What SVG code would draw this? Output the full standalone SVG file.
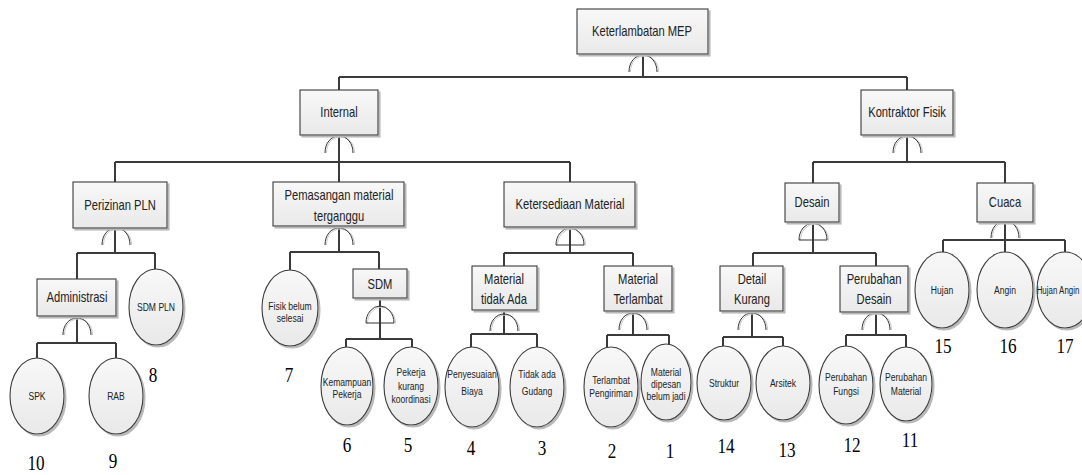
<svg xmlns="http://www.w3.org/2000/svg" xmlns:xlink="http://www.w3.org/1999/xlink" width="1082" height="475" viewBox="0 0 1082 475">
<style>
.box{fill:url(#gf);stroke:#3a3a3a;stroke-width:1.1;filter:url(#sh)}
.ev{fill:url(#gf);stroke:#3a3a3a;stroke-width:1.1;filter:url(#sh)}
.wire{fill:none;stroke:#3a3a3a;stroke-width:2}
.g{fill:none;stroke:#333;stroke-width:1}
.gs{fill:none;stroke:#c8c8c8;stroke-width:1}
.t{font-family:"Liberation Sans",Arial,sans-serif;font-size:14px;fill:#222;text-anchor:middle}
.s{font-family:"Liberation Sans",Arial,sans-serif;font-size:11px;fill:#222;text-anchor:middle}
.n{font-family:"Liberation Serif","Times New Roman",serif;font-size:22px;fill:#000;text-anchor:middle}
</style>
<defs>
<linearGradient id="gf" x1="0" y1="0" x2="0" y2="1"><stop offset="0" stop-color="#f8f8f8"/><stop offset="1" stop-color="#e9e9e9"/></linearGradient>
<filter id="sh" x="-10%" y="-10%" width="125%" height="125%"><feDropShadow dx="2" dy="2" stdDeviation="0.4" flood-color="#b8b8b8"/></filter>
<g id="or"><path class="gs" d="M-12.5 0 C-12.5 -10 -6.5 -16 1.5 -16 C9.5 -16 15.5 -10 15.5 0"/><path class="g" d="M-14 0 C-14 -10 -8 -17 0 -17 C8 -17 14 -10 14 0"/></g>
<g id="and"><path class="gs" d="M-12.5 0.5 A14 16.5 0 0 1 15.5 0.5"/><path class="g" d="M-14 0 A14 17 0 0 1 14 0 Z"/></g>
</defs>
<rect width="1082" height="475" fill="#fff"/>
<g id="connectors">
<path class="wire" d="M643 54V77M339 77H907M339 77V90M907 77V90"/>
<path class="wire" d="M339 135V162M115 162H570M115 162V182M339 162V182M570 162V182"/>
<path class="wire" d="M907 135V162M813 162H1005M813 162V183M1005 162V183"/>
<path class="wire" d="M115 228V253M77 253H155M77 253V279M155 253V270"/>
<path class="wire" d="M77 316V343M37 343H116M37 343V358M116 343V358"/>
<path class="wire" d="M339 226V252M290 252H379M290 252V270M379 252V269"/>
<path class="wire" d="M380 298V339M346 339H412M346 339V347M412 339V347"/>
<path class="wire" d="M570 227V253M504 253H633M504 253V266M633 253V266"/>
<path class="wire" d="M504 310V334M471 334H537M471 334V347M537 334V347"/>
<path class="wire" d="M633 311V335M607 335H669M607 335V347M669 335V344"/>
<path class="wire" d="M813 222V253M753 253H876M753 253V266M876 253V266"/>
<path class="wire" d="M752 311V337M723 337H783M723 337V346M783 337V346"/>
<path class="wire" d="M876 312V335M846 335H906M846 335V346M906 335V347"/>
<path class="wire" d="M1005 222V240M943 240H1065M943 240V252M1005 240V252M1065 240V252"/>
</g>
<g id="gates">
<use xlink:href="#or" transform="translate(643 72)"/>
<use xlink:href="#or" transform="translate(339 153)"/>
<use xlink:href="#or" transform="translate(907 153)"/>
<use xlink:href="#or" transform="translate(116 245)"/>
<use xlink:href="#or" transform="translate(77 335)"/>
<use xlink:href="#or" transform="translate(339 245)"/>
<use xlink:href="#or" transform="translate(504 331)"/>
<use xlink:href="#or" transform="translate(633 330)"/>
<use xlink:href="#or" transform="translate(752 330)"/>
<use xlink:href="#or" transform="translate(876 330)"/>
<use xlink:href="#or" transform="translate(1005 238)"/>
<use xlink:href="#and" transform="translate(380 323)"/>
<use xlink:href="#and" transform="translate(570 245)"/>
<use xlink:href="#and" transform="translate(813 240)"/>
</g>
<g id="n-top"><rect class="box" x="577" y="9" width="131" height="45"/><text class="t" transform="translate(642 36) scale(.8 1)">Keterlambatan MEP</text></g>
<g id="n-internal"><rect class="box" x="300" y="90" width="78" height="45"/><text class="t" transform="translate(339 117) scale(.8 1)">Internal</text></g>
<g id="n-kontraktor"><rect class="box" x="861" y="90" width="92" height="45"/><text class="t" transform="translate(907 117) scale(.8 1)">Kontraktor Fisik</text></g>
<g id="n-perizinan"><rect class="box" x="73" y="182" width="94" height="46"/><text class="t" transform="translate(120 210) scale(.8 1)">Perizinan PLN</text></g>
<g id="n-pemasangan"><rect class="box" x="273" y="182" width="131" height="44"/><text class="t" transform="translate(339 200) scale(.8 1)">Pemasangan material</text><text class="t" transform="translate(339 221) scale(.8 1)">terganggu</text></g>
<g id="n-ketersediaan"><rect class="box" x="504" y="182" width="131" height="45"/><text class="t" transform="translate(570 209) scale(.8 1)">Ketersediaan Material</text></g>
<g id="n-desain"><rect class="box" x="785" y="183" width="54" height="39"/><text class="t" transform="translate(812 207) scale(.8 1)">Desain</text></g>
<g id="n-cuaca"><rect class="box" x="977" y="183" width="56" height="39"/><text class="t" transform="translate(1005 207) scale(.8 1)">Cuaca</text></g>
<g id="n-administrasi"><rect class="box" x="37" y="279" width="79" height="37"/><text class="t" transform="translate(77 302) scale(.8 1)">Administrasi</text></g>
<g id="n-sdmpln"><ellipse class="ev" cx="156" cy="307" rx="27" ry="38"/><text class="s" transform="translate(156 311) scale(.78 1)">SDM PLN</text></g>
<g id="n-spk"><ellipse class="ev" cx="37" cy="396" rx="27" ry="38"/><text class="s" transform="translate(37 400) scale(.78 1)">SPK</text></g>
<g id="n-rab"><ellipse class="ev" cx="116" cy="396" rx="27" ry="38"/><text class="s" transform="translate(116 400) scale(.78 1)">RAB</text></g>
<g id="n-fisik"><ellipse class="ev" cx="290" cy="308" rx="28" ry="38"/><text class="s" transform="translate(290 310) scale(.78 1)">Fisik belum</text><text class="s" transform="translate(290 322) scale(.78 1)">selesai</text></g>
<g id="n-sdm"><rect class="box" x="353" y="269" width="54" height="29"/><text class="t" transform="translate(380 289) scale(.8 1)">SDM</text></g>
<g id="n-kemampuan"><ellipse class="ev" cx="347" cy="386" rx="26" ry="39"/><text class="s" transform="translate(347 386) scale(.78 1)">Kemampuan</text><text class="s" transform="translate(347 398) scale(.78 1)">Pekerja</text></g>
<g id="n-koordinasi"><ellipse class="ev" cx="411" cy="386" rx="27" ry="39"/><text class="s" transform="translate(411 376) scale(.78 1)">Pekerja</text><text class="s" transform="translate(411 390) scale(.78 1)">kurang</text><text class="s" transform="translate(411 403) scale(.78 1)">koordinasi</text></g>
<g id="n-tidakada"><rect class="box" x="472" y="266" width="65" height="44"/><text class="t" transform="translate(504 284) scale(.8 1)">Material</text><text class="t" transform="translate(504 304) scale(.8 1)">tidak Ada</text></g>
<g id="n-terlambat"><rect class="box" x="604" y="266" width="68" height="45"/><text class="t" transform="translate(638 284) scale(.8 1)">Material</text><text class="t" transform="translate(638 304) scale(.8 1)">Terlambat</text></g>
<g id="n-biaya"><ellipse class="ev" cx="472" cy="387" rx="27" ry="40"/><text class="s" transform="translate(472 378) scale(.78 1)">Penyesuaian</text><text class="s" transform="translate(472 395) scale(.78 1)">Biaya</text></g>
<g id="n-gudang"><ellipse class="ev" cx="537" cy="387" rx="27" ry="40"/><text class="s" transform="translate(537 378) scale(.78 1)">Tidak ada</text><text class="s" transform="translate(537 395) scale(.78 1)">Gudang</text></g>
<g id="n-pengiriman"><ellipse class="ev" cx="611" cy="387" rx="27" ry="40"/><text class="s" transform="translate(611 384) scale(.78 1)">Terlambat</text><text class="s" transform="translate(611 397) scale(.78 1)">Pengiriman</text></g>
<g id="n-dipesan"><ellipse class="ev" cx="666" cy="382" rx="25" ry="38"/><text class="s" transform="translate(666 376) scale(.78 1)">Material</text><text class="s" transform="translate(666 388) scale(.78 1)">dipesan</text><text class="s" transform="translate(666 400) scale(.78 1)">belum jadi</text></g>
<g id="n-detail"><rect class="box" x="720" y="266" width="63" height="45"/><text class="t" transform="translate(752 284) scale(.8 1)">Detail</text><text class="t" transform="translate(752 304) scale(.8 1)">Kurang</text></g>
<g id="n-perubahandesain"><rect class="box" x="840" y="266" width="68" height="46"/><text class="t" transform="translate(874 284) scale(.8 1)">Perubahan</text><text class="t" transform="translate(874 304) scale(.8 1)">Desain</text></g>
<g id="n-struktur"><ellipse class="ev" cx="724" cy="383" rx="27" ry="37"/><text class="s" transform="translate(724 387) scale(.78 1)">Struktur</text></g>
<g id="n-arsitek"><ellipse class="ev" cx="783" cy="383" rx="27" ry="37"/><text class="s" transform="translate(783 387) scale(.78 1)">Arsitek</text></g>
<g id="n-fungsi"><ellipse class="ev" cx="846" cy="385" rx="27" ry="39"/><text class="s" transform="translate(846 381) scale(.78 1)">Perubahan</text><text class="s" transform="translate(846 395) scale(.78 1)">Fungsi</text></g>
<g id="n-material"><ellipse class="ev" cx="906" cy="384" rx="26" ry="37"/><text class="s" transform="translate(906 381) scale(.78 1)">Perubahan</text><text class="s" transform="translate(906 395) scale(.78 1)">Material</text></g>
<g id="n-hujan"><ellipse class="ev" cx="942" cy="290" rx="27" ry="38"/><text class="s" transform="translate(942 294) scale(.78 1)">Hujan</text></g>
<g id="n-angin"><ellipse class="ev" cx="1005" cy="290" rx="28" ry="38"/><text class="s" transform="translate(1005 294) scale(.78 1)">Angin</text></g>
<g id="n-hujanangin"><ellipse class="ev" cx="1065" cy="290" rx="28" ry="38"/><text class="s" transform="translate(1058 294) scale(.72 1)">Hujan Angin</text></g>
<g id="numbers">
<text class="n" transform="translate(36 470) scale(.78 1)">10</text>
<text class="n" transform="translate(113 468) scale(.78 1)">9</text>
<text class="n" transform="translate(153 382) scale(.78 1)">8</text>
<text class="n" transform="translate(289 382) scale(.78 1)">7</text>
<text class="n" transform="translate(347 452) scale(.78 1)">6</text>
<text class="n" transform="translate(408 452) scale(.78 1)">5</text>
<text class="n" transform="translate(471 455) scale(.78 1)">4</text>
<text class="n" transform="translate(542 455) scale(.78 1)">3</text>
<text class="n" transform="translate(612 458) scale(.78 1)">2</text>
<text class="n" transform="translate(670 458) scale(.78 1)">1</text>
<text class="n" transform="translate(726 453) scale(.78 1)">14</text>
<text class="n" transform="translate(787 457) scale(.78 1)">13</text>
<text class="n" transform="translate(852 452) scale(.78 1)">12</text>
<text class="n" transform="translate(910 447) scale(.78 1)">11</text>
<text class="n" transform="translate(943 353) scale(.78 1)">15</text>
<text class="n" transform="translate(1008 353) scale(.78 1)">16</text>
<text class="n" transform="translate(1065 353) scale(.78 1)">17</text>
</g>
</svg>
